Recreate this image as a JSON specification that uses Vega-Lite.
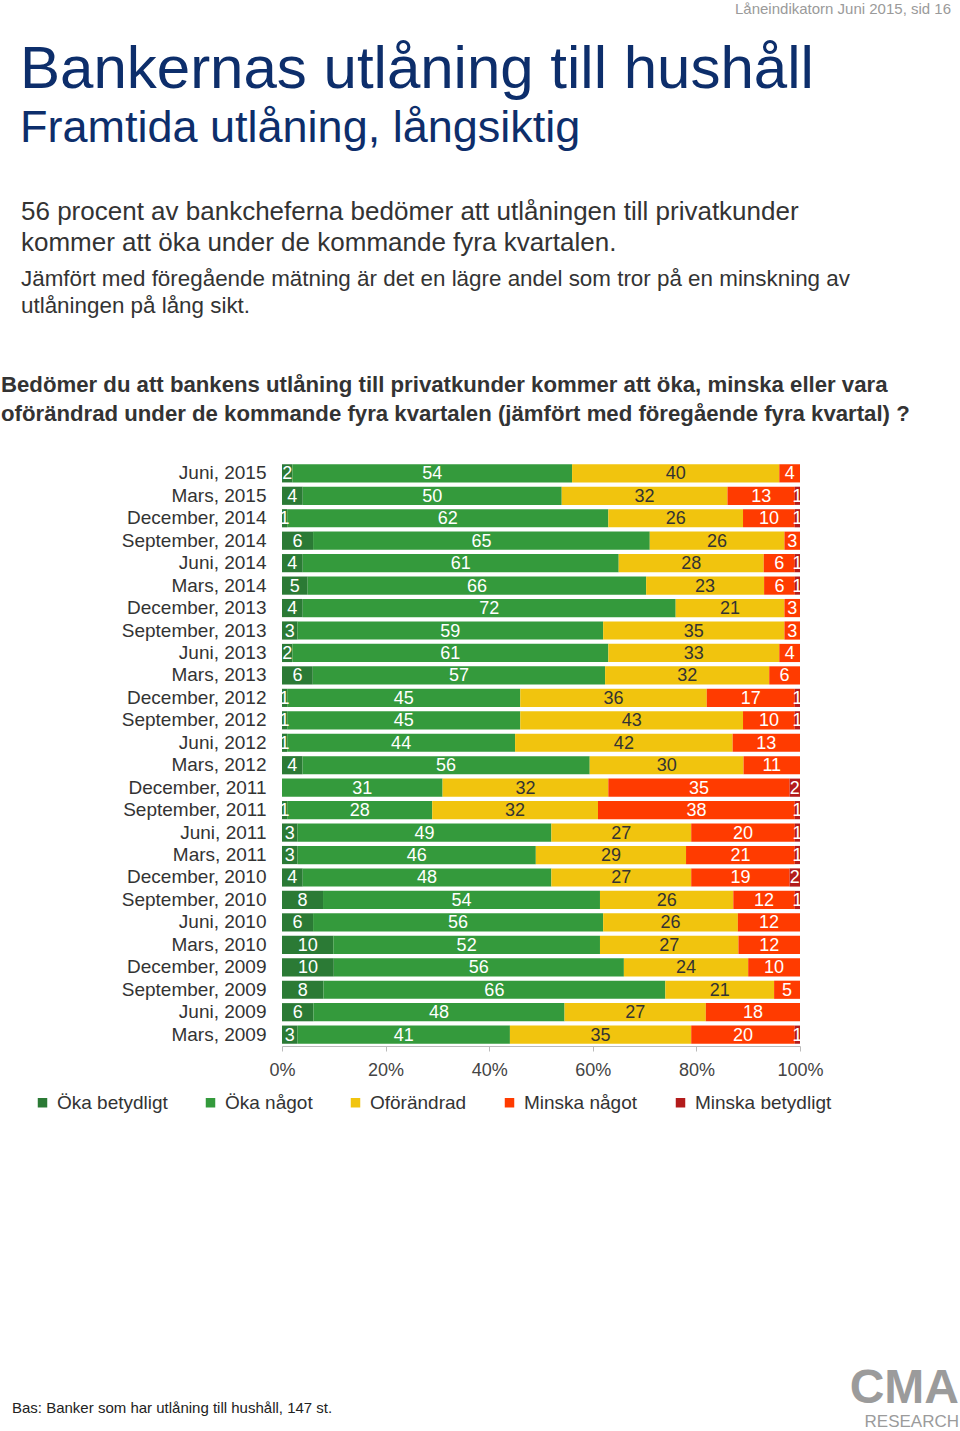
{
  "$schema": "https://vega.github.io/schema/vega-lite/v6.json",
  "background": "white",
  "padding": {"left": 1, "top": 2, "right": 0, "bottom": 0},
  "spacing": 0,
  "bounds": "flush",
  "config": {
    "view": {"stroke": null},
    "font": "Liberation Sans",
    "title": {"font": "Liberation Sans", "subtitleFont": "Liberation Sans"}
  },
  "datasets": {
    "ord": [
      {"c": "Öka betydligt", "k": 1}, {"c": "Öka något", "k": 2}, {"c": "Oförändrad", "k": 3}, {"c": "Minska något", "k": 4}, {"c": "Minska betydligt", "k": 5}
    ],
    "d": [
      {"p": "Juni, 2015", "c": "Öka betydligt", "v": 2}, {"p": "Juni, 2015", "c": "Öka något", "v": 54}, {"p": "Juni, 2015", "c": "Oförändrad", "v": 40}, {"p": "Juni, 2015", "c": "Minska något", "v": 4},
      {"p": "Mars, 2015", "c": "Öka betydligt", "v": 4}, {"p": "Mars, 2015", "c": "Öka något", "v": 50}, {"p": "Mars, 2015", "c": "Oförändrad", "v": 32}, {"p": "Mars, 2015", "c": "Minska något", "v": 13}, {"p": "Mars, 2015", "c": "Minska betydligt", "v": 1},
      {"p": "December, 2014", "c": "Öka betydligt", "v": 1}, {"p": "December, 2014", "c": "Öka något", "v": 62}, {"p": "December, 2014", "c": "Oförändrad", "v": 26}, {"p": "December, 2014", "c": "Minska något", "v": 10}, {"p": "December, 2014", "c": "Minska betydligt", "v": 1},
      {"p": "September, 2014", "c": "Öka betydligt", "v": 6}, {"p": "September, 2014", "c": "Öka något", "v": 65}, {"p": "September, 2014", "c": "Oförändrad", "v": 26}, {"p": "September, 2014", "c": "Minska något", "v": 3},
      {"p": "Juni, 2014", "c": "Öka betydligt", "v": 4}, {"p": "Juni, 2014", "c": "Öka något", "v": 61}, {"p": "Juni, 2014", "c": "Oförändrad", "v": 28}, {"p": "Juni, 2014", "c": "Minska något", "v": 6}, {"p": "Juni, 2014", "c": "Minska betydligt", "v": 1},
      {"p": "Mars, 2014", "c": "Öka betydligt", "v": 5}, {"p": "Mars, 2014", "c": "Öka något", "v": 66}, {"p": "Mars, 2014", "c": "Oförändrad", "v": 23}, {"p": "Mars, 2014", "c": "Minska något", "v": 6}, {"p": "Mars, 2014", "c": "Minska betydligt", "v": 1},
      {"p": "December, 2013", "c": "Öka betydligt", "v": 4}, {"p": "December, 2013", "c": "Öka något", "v": 72}, {"p": "December, 2013", "c": "Oförändrad", "v": 21}, {"p": "December, 2013", "c": "Minska något", "v": 3},
      {"p": "September, 2013", "c": "Öka betydligt", "v": 3}, {"p": "September, 2013", "c": "Öka något", "v": 59}, {"p": "September, 2013", "c": "Oförändrad", "v": 35}, {"p": "September, 2013", "c": "Minska något", "v": 3},
      {"p": "Juni, 2013", "c": "Öka betydligt", "v": 2}, {"p": "Juni, 2013", "c": "Öka något", "v": 61}, {"p": "Juni, 2013", "c": "Oförändrad", "v": 33}, {"p": "Juni, 2013", "c": "Minska något", "v": 4},
      {"p": "Mars, 2013", "c": "Öka betydligt", "v": 6}, {"p": "Mars, 2013", "c": "Öka något", "v": 57}, {"p": "Mars, 2013", "c": "Oförändrad", "v": 32}, {"p": "Mars, 2013", "c": "Minska något", "v": 6},
      {"p": "December, 2012", "c": "Öka betydligt", "v": 1}, {"p": "December, 2012", "c": "Öka något", "v": 45}, {"p": "December, 2012", "c": "Oförändrad", "v": 36}, {"p": "December, 2012", "c": "Minska något", "v": 17}, {"p": "December, 2012", "c": "Minska betydligt", "v": 1},
      {"p": "September, 2012", "c": "Öka betydligt", "v": 1}, {"p": "September, 2012", "c": "Öka något", "v": 45}, {"p": "September, 2012", "c": "Oförändrad", "v": 43}, {"p": "September, 2012", "c": "Minska något", "v": 10}, {"p": "September, 2012", "c": "Minska betydligt", "v": 1},
      {"p": "Juni, 2012", "c": "Öka betydligt", "v": 1}, {"p": "Juni, 2012", "c": "Öka något", "v": 44}, {"p": "Juni, 2012", "c": "Oförändrad", "v": 42}, {"p": "Juni, 2012", "c": "Minska något", "v": 13},
      {"p": "Mars, 2012", "c": "Öka betydligt", "v": 4}, {"p": "Mars, 2012", "c": "Öka något", "v": 56}, {"p": "Mars, 2012", "c": "Oförändrad", "v": 30}, {"p": "Mars, 2012", "c": "Minska något", "v": 11},
      {"p": "December, 2011", "c": "Öka något", "v": 31}, {"p": "December, 2011", "c": "Oförändrad", "v": 32}, {"p": "December, 2011", "c": "Minska något", "v": 35}, {"p": "December, 2011", "c": "Minska betydligt", "v": 2},
      {"p": "September, 2011", "c": "Öka betydligt", "v": 1}, {"p": "September, 2011", "c": "Öka något", "v": 28}, {"p": "September, 2011", "c": "Oförändrad", "v": 32}, {"p": "September, 2011", "c": "Minska något", "v": 38}, {"p": "September, 2011", "c": "Minska betydligt", "v": 1},
      {"p": "Juni, 2011", "c": "Öka betydligt", "v": 3}, {"p": "Juni, 2011", "c": "Öka något", "v": 49}, {"p": "Juni, 2011", "c": "Oförändrad", "v": 27}, {"p": "Juni, 2011", "c": "Minska något", "v": 20}, {"p": "Juni, 2011", "c": "Minska betydligt", "v": 1},
      {"p": "Mars, 2011", "c": "Öka betydligt", "v": 3}, {"p": "Mars, 2011", "c": "Öka något", "v": 46}, {"p": "Mars, 2011", "c": "Oförändrad", "v": 29}, {"p": "Mars, 2011", "c": "Minska något", "v": 21}, {"p": "Mars, 2011", "c": "Minska betydligt", "v": 1},
      {"p": "December, 2010", "c": "Öka betydligt", "v": 4}, {"p": "December, 2010", "c": "Öka något", "v": 48}, {"p": "December, 2010", "c": "Oförändrad", "v": 27}, {"p": "December, 2010", "c": "Minska något", "v": 19}, {"p": "December, 2010", "c": "Minska betydligt", "v": 2},
      {"p": "September, 2010", "c": "Öka betydligt", "v": 8}, {"p": "September, 2010", "c": "Öka något", "v": 54}, {"p": "September, 2010", "c": "Oförändrad", "v": 26}, {"p": "September, 2010", "c": "Minska något", "v": 12}, {"p": "September, 2010", "c": "Minska betydligt", "v": 1},
      {"p": "Juni, 2010", "c": "Öka betydligt", "v": 6}, {"p": "Juni, 2010", "c": "Öka något", "v": 56}, {"p": "Juni, 2010", "c": "Oförändrad", "v": 26}, {"p": "Juni, 2010", "c": "Minska något", "v": 12},
      {"p": "Mars, 2010", "c": "Öka betydligt", "v": 10}, {"p": "Mars, 2010", "c": "Öka något", "v": 52}, {"p": "Mars, 2010", "c": "Oförändrad", "v": 27}, {"p": "Mars, 2010", "c": "Minska något", "v": 12},
      {"p": "December, 2009", "c": "Öka betydligt", "v": 10}, {"p": "December, 2009", "c": "Öka något", "v": 56}, {"p": "December, 2009", "c": "Oförändrad", "v": 24}, {"p": "December, 2009", "c": "Minska något", "v": 10},
      {"p": "September, 2009", "c": "Öka betydligt", "v": 8}, {"p": "September, 2009", "c": "Öka något", "v": 66}, {"p": "September, 2009", "c": "Oförändrad", "v": 21}, {"p": "September, 2009", "c": "Minska något", "v": 5},
      {"p": "Juni, 2009", "c": "Öka betydligt", "v": 6}, {"p": "Juni, 2009", "c": "Öka något", "v": 48}, {"p": "Juni, 2009", "c": "Oförändrad", "v": 27}, {"p": "Juni, 2009", "c": "Minska något", "v": 18},
      {"p": "Mars, 2009", "c": "Öka betydligt", "v": 3}, {"p": "Mars, 2009", "c": "Öka något", "v": 41}, {"p": "Mars, 2009", "c": "Oförändrad", "v": 35}, {"p": "Mars, 2009", "c": "Minska något", "v": 20}, {"p": "Mars, 2009", "c": "Minska betydligt", "v": 1}
    ]
  },
  "vconcat": [
    {
      "width": 669, "height": 131,
      "data": {"values": []},
      "mark": {"type": "text"},
      "encoding": {},
      "title": {"text": "Låneindikatorn Juni 2015, sid 16", "anchor": "end", "frame": "group", "fontSize": 15, "fontWeight": "normal", "color": "#9a9a9a", "offset": 0}
    },
    {
      "width": 518, "height": 170,
      "data": {"values": []},
      "mark": {"type": "text"},
      "encoding": {},
      "title": {"text": "Bankernas utlåning till hushåll", "subtitle": "Framtida utlåning, långsiktig", "anchor": "start", "frame": "group", "dx": -262, "fontSize": 60, "subtitleFontSize": 45, "fontWeight": "normal", "subtitleFontWeight": "normal", "color": "#0d2e6b", "subtitleColor": "#0d2e6b", "subtitlePadding": 5, "offset": -4}
    },
    {
      "width": 518, "height": 144,
      "data": {"values": []},
      "mark": {"type": "text"},
      "encoding": {},
      "title": {"text": ["56 procent av bankcheferna bedömer att utlåningen till privatkunder", "kommer att öka under de kommande fyra kvartalen."], "subtitle": ["Jämfört med föregående mätning är det en lägre andel som tror på en minskning av", "utlåningen på lång sikt."], "anchor": "start", "frame": "group", "dx": -261, "fontSize": 26, "lineHeight": 31, "subtitleFontSize": 22.4, "subtitleLineHeight": 27, "fontWeight": "normal", "subtitleFontWeight": "normal", "color": "#333333", "subtitleColor": "#333333", "subtitlePadding": 12, "offset": 1}
    },
    {
      "width": 518, "height": 584,
      "data": {"name": "d"},
      "transform": [
        {"lookup": "c", "from": {"data": {"name": "ord"}, "key": "c", "fields": ["k"]}}
      ],
      "title": {"text": ["Bedömer du att bankens utlåning till privatkunder kommer att öka, minska eller vara", "oförändrad under de kommande fyra kvartalen (jämfört med föregående fyra kvartal) ?"], "anchor": "start", "frame": "group", "dx": -281, "fontSize": 22.2, "fontWeight": "bold", "color": "#333333", "lineHeight": 29, "offset": 37},
      "encoding": {
        "y": {"field": "p", "type": "nominal", "sort": null, "title": null,
              "scale": {"paddingInner": 0.19, "paddingOuter": 0.1},
              "axis": {"ticks": false, "domain": false, "labelFontSize": 19, "labelColor": "#333333", "labelPadding": 16, "labelLimit": 300}},
        "x": {"field": "v", "type": "quantitative", "stack": "normalize", "title": null,
              "axis": {"format": ".0%", "values": [0, 0.2, 0.4, 0.6, 0.8, 1], "grid": false, "labelFontSize": 18, "labelColor": "#444444", "labelFlush": false, "domainColor": "#bbbbbb", "tickColor": "#bbbbbb", "tickSize": 5, "labelPadding": 10}},
        "order": {"field": "k", "type": "quantitative", "sort": "ascending"}
      },
      "layer": [
        {
          "mark": {"type": "bar"},
          "encoding": {
            "color": {"field": "c", "type": "nominal",
                      "scale": {"domain": ["Öka betydligt", "Öka något", "Oförändrad", "Minska något", "Minska betydligt"], "range": ["#2b7a35", "#349a3c", "#f1c40e", "#ff3b00", "#b31b1b"]},
                      "legend": {"orient": "none", "legendX": -249, "legendY": 631, "direction": "horizontal", "title": null, "symbolType": "square", "symbolSize": 90, "symbolStrokeWidth": 0, "labelFontSize": 19, "labelColor": "#333333", "columnPadding": 33, "labelOffset": 5}}
          }
        },
        {
          "mark": {"type": "text", "fontSize": 18, "dy": 1, "clip": true},
          "encoding": {
            "x": {"field": "v", "type": "quantitative", "stack": "normalize", "bandPosition": 0.5},
            "text": {"field": "v", "type": "quantitative"},
            "color": {"field": "c", "type": "nominal",
                      "scale": {"domain": ["Öka betydligt", "Öka något", "Oförändrad", "Minska något", "Minska betydligt"], "range": ["#ffffff", "#ffffff", "#333333", "#ffffff", "#ffffff"]},
                      "legend": null}
          }
        }
      ],
      "resolve": {"scale": {"color": "independent"}}
    },
    {
      "width": 518, "height": 322,
      "data": {"values": []},
      "mark": {"type": "text"},
      "encoding": {},
      "title": {"text": "Bas: Banker som har utlåning till hushåll, 147 st.", "orient": "bottom", "anchor": "start", "frame": "group", "dx": -270, "fontSize": 15, "fontWeight": "normal", "color": "#222222", "offset": 33}
    },
    {
      "width": 677, "height": 1,
      "data": {"values": []},
      "mark": {"type": "text"},
      "encoding": {},
      "title": {"text": "CMA", "subtitle": "RESEARCH", "orient": "bottom", "anchor": "end", "frame": "group", "fontSize": 48, "fontWeight": "bold", "color": "#9b9b9b", "subtitleFontSize": 17, "subtitleColor": "#9b9b9b", "subtitleFontWeight": "normal", "subtitlePadding": 1, "offset": -4}
    }
  ]
}
